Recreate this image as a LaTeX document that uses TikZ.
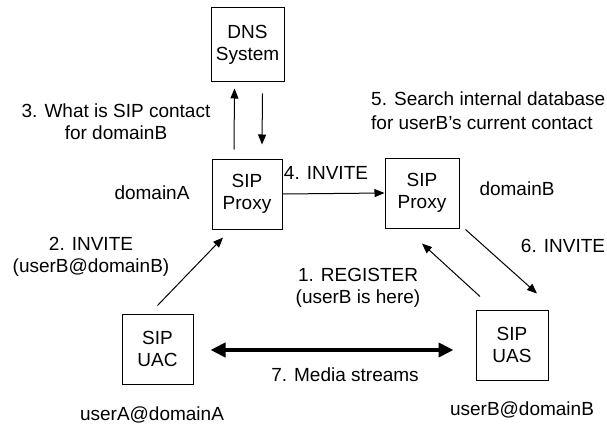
\documentclass[tikz,border=0pt]{standalone}
\usepackage{fontspec}
\setmainfont{Liberation Sans}
\usetikzlibrary{arrows.meta,calc}
\begin{document}
\begin{tikzpicture}[x=1pt,y=-1pt,
  font=\fontsize{19}{22}\selectfont,
  box/.style={draw,line width=1pt,minimum height=70pt,align=center,inner sep=0pt},
  lbl/.style={align=center,inner sep=0pt},
  arr/.style={line width=1pt,-{Triangle[length=10pt,width=8pt]}},
  thickarr/.style={line width=4pt,{Triangle[length=15pt,width=14pt]}-{Triangle[length=15pt,width=14pt]}}]
\path[use as bounding box,fill=white] (0,0) rectangle (607,425);
% boxes
\node[box,minimum width=73pt,minimum height=74pt] (dns) at (247.5,45) {DNS\\System};
\node[box,minimum width=70pt] (pA) at (247,194) {SIP\\Proxy};
\node[box,minimum width=74pt] (pB) at (422,193) {SIP\\Proxy};
\node[box,minimum width=71pt] (uac) at (157.5,349) {SIP\\UAC};
\node[box,minimum width=72pt] (uas) at (512,345) {SIP\\UAS};
% connectors
\draw[arr] ([xshift=-13pt,yshift=9pt]pA.north) -- ([xshift=-13pt,yshift=-6pt]dns.south);
\draw[arr] ([xshift=15pt,yshift=-11pt]dns.south) -- ([xshift=15pt,yshift=14pt]pA.north);
\draw[arr] (pA.east) -- (pB.west);
\draw[arr] ([yshift=8pt]uac.north) -- ([xshift=-24pt,yshift=-8pt]pA.south);
\draw[arr] ([xshift=-32pt,yshift=13pt]uas.north) -- ([yshift=-15pt]pB.south);
\draw[arr] ([xshift=6pt,yshift=-1pt]pB.south east) -- ([xshift=25pt,yshift=16pt]uas.north);
\draw[thickarr] ($(uac.east)+(17,1)$) -- ($(uac.east -| uas.west)+(-22,1)$);
% labels
\node[lbl] (l3) at (116,122) {3. What is SIP contact\\for domainB};
\node[lbl] (ldA) at (152,193) {domainA};
\node[lbl] (l2) at (91,257) {2. INVITE\\(userB@domainB)};
\node[lbl] (l4) at (326,173) {4. INVITE};
\node[lbl,align=left,anchor=west] (l5) at (371,111) {5. Search internal database\\[2pt]for userB’s current contact};
\node[lbl] (ldB) at (517,189) {domainB};
\node[lbl] (l6) at (563,246) {6. INVITE};
\node[lbl] (l1) at (358,288) {1. REGISTER\\(userB is here)};
\node[lbl] (l7) at (345,375) {7. Media streams};
\node[lbl] (luA) at (152,415) {userA@domainA};
\node[lbl] (luB) at (522,410) {userB@domainB};
\end{tikzpicture}
\end{document}
